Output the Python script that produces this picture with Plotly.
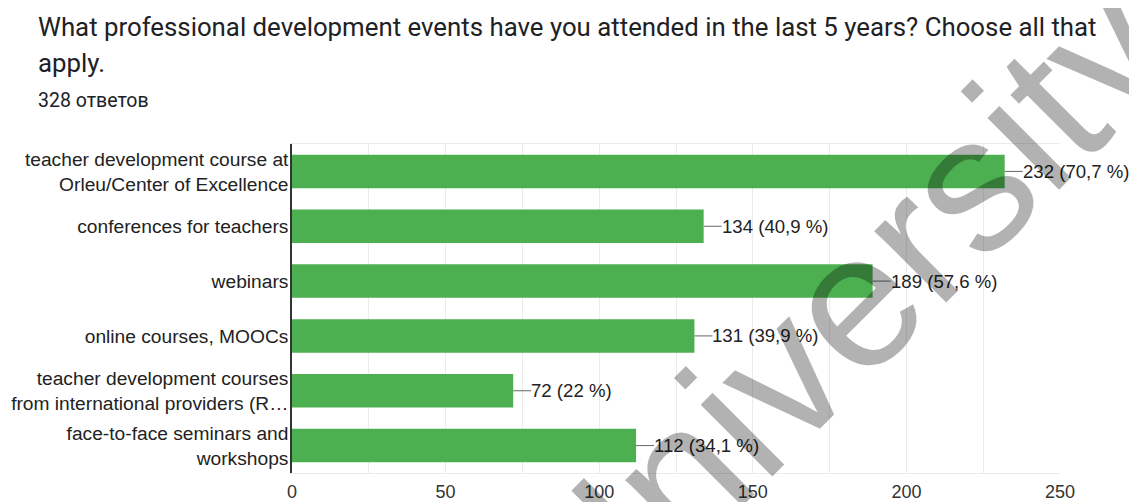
import plotly.graph_objects as go

categories = [
    "teacher development course at<br>Orleu/Center of Excellence",
    "conferences for teachers",
    "webinars",
    "online courses, MOOCs",
    "teacher development courses<br>from international providers (R…",
    "face-to-face seminars and<br>workshops",
]
counts = [232, 134, 189, 131, 72, 112]
percents = ["70,7", "40,9", "57,6", "39,9", "22", "34,1"]
x_ticks = [0, 50, 100, 150, 200, 250]

title_line1 = "What professional development events have you attended in the last 5 years? Choose all that"
title_line2 = "apply."
subtitle = "328 ответов"
watermark = "University"

# page has an 8px body margin; figure is sized/positioned to compensate
OFF = 8
W, H = 1137 - OFF, 502 - OFF
PL, PR, PT, PB = 292, 1060, 144, 473  # plot area in page pixels
L, R, T, B = PL - OFF, W - (PR - OFF), PT - OFF, H - (PB - OFF)
pw, ph = W - L - R, H - T - B


def px_x(px):
    return (px - OFF - L) / pw


def px_y(py):
    return (H - B - (py - OFF)) / ph


fig = go.Figure()
fig.add_trace(go.Bar(
    x=counts, y=categories, orientation="h",
    marker=dict(color="#4caf50", line=dict(width=0)),
    hoverinfo="skip",
))

annotations = []
for c, cat, p in zip(counts, categories, percents):
    annotations.append(dict(
        x=c, y=cat, xref="x", yref="y",
        text=f"{c} ({p} %)", showarrow=True, arrowhead=0,
        ax=18, ay=0, xanchor="left", yanchor="middle",
        arrowcolor="#666666", arrowwidth=1, standoff=0, startstandoff=0,
        borderpad=0, borderwidth=0,
        font=dict(family="Liberation Sans", size=18.6, color="#222222"),
    ))

annotations += [
    dict(x=px_x(36), y=px_y(27), xref="paper", yref="paper", xanchor="left", yanchor="middle",
         text=title_line1, showarrow=False,
         font=dict(family="Roboto", size=25.8, color="#202124")),
    dict(x=px_x(36), y=px_y(63), xref="paper", yref="paper", xanchor="left", yanchor="middle",
         text=title_line2, showarrow=False,
         font=dict(family="Roboto", size=25.8, color="#202124")),
    dict(x=px_x(36), y=px_y(100), xref="paper", yref="paper", xanchor="left", yanchor="middle",
         text=subtitle, showarrow=False,
         font=dict(family="Roboto", size=19.5, color="#202124")),
    dict(x=px_x(840), y=px_y(314), xref="paper", yref="paper", xanchor="center", yanchor="middle",
         text=watermark, showarrow=False, textangle=-45,
         font=dict(family="Liberation Sans", size=192, color="rgba(0,0,0,0.30)")),
]

fig.update_layout(
    width=W, height=H,
    margin=dict(l=L, r=R, t=T, b=B, pad=0, autoexpand=False),
    paper_bgcolor="white", plot_bgcolor="white",
    showlegend=False,
    bargap=0.39,
    annotations=annotations,
    xaxis=dict(
        range=[0, 250], tickvals=x_ticks, ticktext=[str(v) for v in x_ticks],
        showgrid=True, gridcolor="#ebebeb", gridwidth=1,
        minor=dict(dtick=25, showgrid=True, gridcolor="#ebebeb", gridwidth=1),
        zeroline=False, showline=True, linecolor="#ebebeb", mirror=True,
        ticks="", ticklabelstandoff=2,
        tickfont=dict(family="Liberation Sans", size=18, color="#333333"),
        fixedrange=True, automargin=False,
    ),
    yaxis=dict(
        autorange="reversed", showgrid=False, zeroline=False,
        showline=True, linecolor="#333333", linewidth=1.5,
        ticks="", ticklabelstandoff=-2,
        tickfont=dict(family="Liberation Sans", size=19.2, color="#222222"),
        fixedrange=True, automargin=False,
    ),
)

fig.write_html("out.html")
